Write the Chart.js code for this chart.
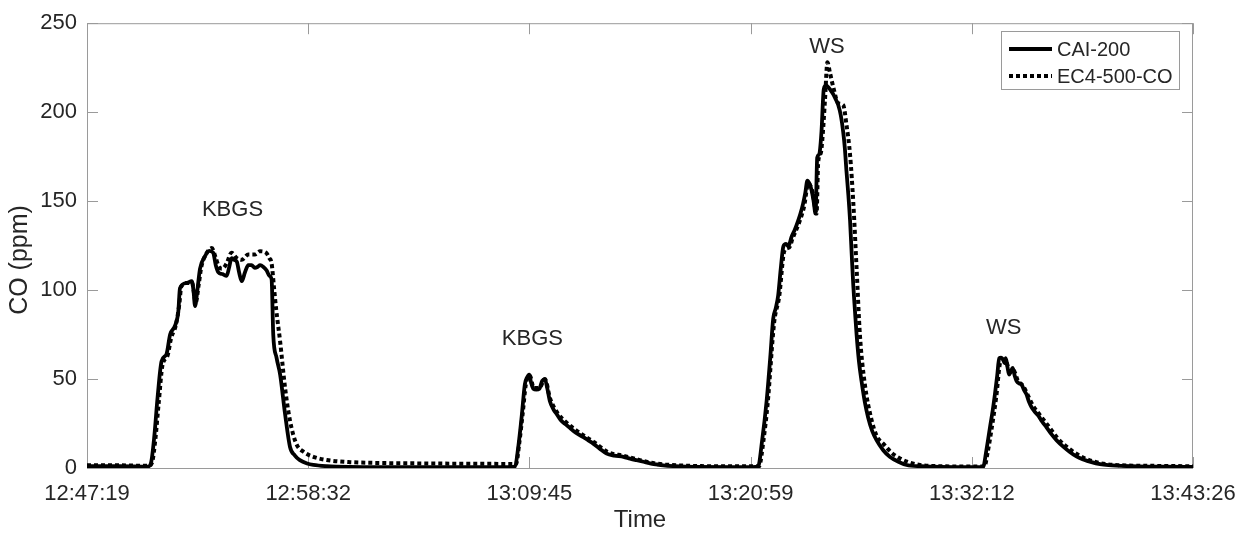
<!DOCTYPE html>
<html>
<head>
<meta charset="utf-8">
<script src="https://cdn.jsdelivr.net/npm/chart.js@4.4.1/dist/chart.umd.min.js"></script>
<style>
  body { margin: 0; background: #fff; }
  #wrap { width: 1257px; height: 537px; }
</style>
</head>
<body>
<div id="wrap"><canvas id="coChart" width="1257" height="537"></canvas></div>
<script>
// seconds after 12:47:19, CO in ppm
const caiTime = [0, 100, 185, 195, 205, 215, 227, 242, 253, 268, 278, 283, 303, 319, 324, 329, 336, 344, 359, 372, 384, 392, 400, 412, 425, 433, 440, 448, 456, 463, 471, 481, 491, 501, 511, 519, 527, 537, 547, 555, 562, 567, 577, 588, 603, 618, 633, 648, 670, 689, 730, 800,
  900, 1100, 1290, 1303, 1313, 1323, 1333, 1340, 1346, 1352, 1359, 1368, 1377, 1386, 1394, 1401, 1409, 1420, 1430, 1442, 1455, 1467, 1480, 1495, 1511, 1526, 1541, 1560, 1582, 1605, 1633, 1653, 1673, 1694, 1714, 1734, 1754, 1790, 1850, 2000,
  2043, 2055, 2069, 2080, 2089, 2097, 2104, 2112, 2120, 2128, 2135, 2145, 2155, 2165, 2172, 2180, 2187, 2193, 2199, 2206, 2212, 2218, 2223, 2228, 2231, 2236, 2243, 2250, 2257, 2265, 2272, 2280, 2287, 2295, 2302, 2307, 2312, 2318, 2323, 2328, 2333, 2338, 2343, 2350, 2358, 2368, 2378, 2390, 2404, 2424, 2444, 2470, 2495, 2540, 2600, 2700,
  2728, 2738, 2749, 2757, 2764, 2771, 2777, 2783, 2789, 2793, 2797, 2802, 2807, 2812, 2818, 2824, 2830, 2838, 2845, 2852, 2860, 2868, 2876, 2886, 2896, 2908, 2921, 2936, 2952, 2972, 2992, 3012, 3033, 3058, 3084, 3110, 3134, 3200, 3280, 3367];
const caiPpm = [1, 1, 0.8, 3, 18, 40, 60, 64, 75, 80, 88, 101, 104, 105, 100, 91, 100, 112, 119, 122, 121, 114, 110, 109, 108, 113, 118, 117, 116, 110, 105, 110, 114, 114, 112.5, 113, 114, 113, 111, 108, 106, 75, 62, 52.5, 30.3, 11.8, 7, 4.4, 2.5, 1.7, 1, 0.6,
  0.5, 0.5, 0.5, 0.8, 12, 28.4, 47, 51, 52.5, 48, 44.5, 44, 44.5, 49, 50, 45, 37.7, 33, 30.3, 27, 24.8, 23, 21, 19, 17.4, 15.5, 13.7, 11, 8.1, 7, 6.3, 5.3, 4.4, 3.5, 2.6, 2, 1.5, 1, 0.6, 0.5,
  0.8, 15, 37.7, 62, 83.9, 90, 96.8, 112, 124.6, 126, 124.6, 130, 134, 139, 143, 148.6, 155, 161.5, 160, 156, 150, 143, 174.4, 176, 178, 189, 213, 215, 214, 212, 210, 207, 204, 198, 189, 180, 167, 153, 139, 120, 102, 88, 74.7, 60, 48.8, 37, 28.4, 21, 15.5, 10, 6.3, 3.5, 1.7, 1, 0.6, 0.5,
  0.6, 10, 22.9, 32, 41.4, 52, 61.7, 62, 60.8, 59, 61.7, 57, 52.5, 54, 56.2, 52, 48.8, 47.5, 47, 44, 41.4, 37, 34, 31.5, 29.4, 26, 22.9, 19, 15.5, 12, 9, 6.5, 4.8, 3.3, 2.2, 1.6, 1.3, 0.9, 0.7, 0.6];

const ecTime = [0, 100, 188, 198, 208, 218, 230, 245, 256, 270, 281, 287, 306, 320, 331, 340, 348, 362, 380, 392, 402, 412, 425, 440, 456, 471, 491, 511, 527, 545, 555, 562, 570, 576, 588, 603, 618, 637, 660, 689, 730, 800, 900, 1000, 1150, 1300,
  1306, 1316, 1326, 1336, 1348, 1360, 1377, 1394, 1410, 1432, 1457, 1483, 1514, 1544, 1585, 1635, 1675, 1716, 1760, 1820, 1950, 2045,
  2047, 2059, 2072, 2092, 2107, 2123, 2138, 2148, 2168, 2183, 2196, 2209, 2221, 2226, 2234, 2240, 2247, 2254, 2262, 2272, 2287, 2302, 2312, 2323, 2333, 2343, 2353, 2368, 2389, 2404, 2424, 2450, 2475, 2505, 2536, 2600,
  2732, 2742, 2753, 2768, 2781, 2790, 2800, 2810, 2820, 2834, 2850, 2864, 2880, 2900, 2925, 2956, 2996, 3037, 3088, 3140, 3250, 3367];
const ecPpm = [1.5, 1.5, 1.2, 3, 16, 36, 58, 63, 73, 80, 92, 102, 104, 104, 93, 103, 113, 120, 123.6, 118, 113, 112, 115, 121, 118, 117, 120, 120, 121.8, 121, 118, 115, 100, 89, 71, 45, 26.6, 13.7, 9, 6.3, 4.5, 3.3, 2.8, 2.6, 2.4, 2.3,
  2.3, 14, 30, 47, 52, 45, 45, 50, 39, 31, 26, 22, 18, 14.5, 9, 6.8, 4.8, 3, 2, 1.3, 1, 1,
  1.2, 15, 36, 82, 96, 122, 124, 129, 138, 147, 160, 155, 143, 172, 177, 188, 208, 228, 222, 214, 205, 204, 193, 176, 148.6, 111.6, 74.7, 47, 26.6, 18, 13.7, 8.5, 5.4, 3, 1.7, 1,
  0.8, 9, 21, 40, 60, 61, 59, 54, 55, 49, 46, 41, 35, 30, 24, 16.5, 10, 5.5, 2.6, 1.6, 1.2, 1];

const timeSpan = 3367;
const tickLabels = ['12:47:19', '12:58:32', '13:09:45', '13:20:59', '13:32:12', '13:43:26'];
const yTicks = [0, 50, 100, 150, 200, 250];

// event labels placed in data units
const eventText = ['KBGS', 'KBGS', 'WS', 'WS'];
const eventTime = [443, 1356, 2253, 2791];
const eventPpm = [145, 72.6, 236.7, 78.7];

const FONT = '"Liberation Sans", Arial, sans-serif';
const TEXT = '#262626';
const AXIS = '#9a9a9a';

function toPoints(xs, ys) {
  return xs.map((x, i) => ({ x: x, y: ys[i] }));
}

// box, inward ticks, titles, event labels and legend
const decorations = {
  id: 'decorations',
  beforeDatasetsDraw(chart) {
    const { ctx, chartArea: a, scales } = chart;
    ctx.save();
    ctx.strokeStyle = AXIS;
    ctx.lineWidth = 1;
    ctx.strokeRect(a.left + 0.5, a.top + 0.5, a.right - a.left - 1, a.bottom - a.top);
    ctx.beginPath();
    scales.x.ticks.forEach(t => {
      const px = Math.round(scales.x.getPixelForValue(t.value)) + 0.5;
      ctx.moveTo(px, a.bottom); ctx.lineTo(px, a.bottom - 11);
      ctx.moveTo(px, a.top); ctx.lineTo(px, a.top + 11);
    });
    scales.y.ticks.forEach(t => {
      const py = Math.round(scales.y.getPixelForValue(t.value)) + 0.5;
      ctx.moveTo(a.left, py); ctx.lineTo(a.left + 11, py);
      ctx.moveTo(a.right, py); ctx.lineTo(a.right - 11, py);
    });
    ctx.stroke();
    ctx.restore();
  },
  afterDraw(chart) {
    const { ctx, chartArea: a, scales } = chart;
    ctx.save();
    ctx.fillStyle = TEXT;
    ctx.textAlign = 'center';
    ctx.textBaseline = 'middle';
    ctx.font = '22px ' + FONT;

    eventText.forEach((txt, i) => {
      ctx.fillText(txt, scales.x.getPixelForValue(eventTime[i]), scales.y.getPixelForValue(eventPpm[i]));
    });

    ctx.font = '24px ' + FONT;
    ctx.fillText('Time', (a.left + a.right) / 2, 520);

    ctx.save();
    ctx.translate(20, 260);
    ctx.rotate(-Math.PI / 2);
    ctx.font = '25px ' + FONT;
    ctx.fillText('CO (ppm)', 0, 0);
    ctx.restore();

    // legend box
    const bx = 1001, by = 31, bw = 178, bh = 58;
    ctx.fillStyle = '#fff';
    ctx.fillRect(bx, by, bw, bh);
    ctx.strokeStyle = AXIS;
    ctx.lineWidth = 1;
    ctx.strokeRect(bx + 0.5, by + 0.5, bw, bh);
    ctx.textAlign = 'left';
    ctx.font = '20px ' + FONT;
    chart.data.datasets.forEach((ds, i) => {
      const cy = 49 + i * 27;
      ctx.strokeStyle = ds.borderColor;
      ctx.lineWidth = ds.borderWidth;
      ctx.setLineDash(ds.borderDash || []);
      ctx.beginPath();
      ctx.moveTo(1009, cy);
      ctx.lineTo(1052, cy);
      ctx.stroke();
      ctx.setLineDash([]);
      ctx.fillStyle = TEXT;
      ctx.fillText(ds.label, 1057, cy + 1);
    });
    ctx.restore();
  }
};

new Chart(document.getElementById('coChart'), {
  type: 'line',
  data: {
    datasets: [
      {
        label: 'CAI-200',
        data: toPoints(caiTime, caiPpm),
        borderColor: '#000',
        borderWidth: 3.8,
        pointRadius: 0,
        cubicInterpolationMode: 'monotone',
        fill: false
      },
      {
        label: 'EC4-500-CO',
        data: toPoints(ecTime, ecPpm),
        borderColor: '#000',
        borderWidth: 4,
        borderDash: [4, 3],
        borderCapStyle: 'butt',
        pointRadius: 0,
        cubicInterpolationMode: 'monotone',
        fill: false
      }
    ]
  },
  options: {
    responsive: false,
    animation: false,
    layout: { padding: { top: 17, right: 64, left: 0, bottom: 0 } },
    plugins: { legend: { display: false }, tooltip: { enabled: false } },
    scales: {
      x: {
        type: 'linear',
        min: 0,
        max: timeSpan,
        grid: { display: false, drawTicks: false },
        border: { display: false },
        afterFit: s => { s.height = 69; },
        afterBuildTicks: s => {
          s.ticks = tickLabels.map((_, i) => ({ value: i * timeSpan / (tickLabels.length - 1) }));
        },
        ticks: {
          autoSkip: false,
          maxRotation: 0,
          padding: 13,
          color: TEXT,
          font: { family: FONT, size: 22 },
          callback: (v, i) => tickLabels[i]
        }
      },
      y: {
        min: 0,
        max: 250,
        grid: { display: false, drawTicks: false },
        border: { display: false },
        afterFit: s => { s.width = 87; },
        afterBuildTicks: s => {
          s.ticks = yTicks.map(v => ({ value: v }));
        },
        ticks: {
          padding: 10,
          color: TEXT,
          font: { family: FONT, size: 22 }
        }
      }
    }
  },
  plugins: [decorations]
});
</script>
</body>
</html>
